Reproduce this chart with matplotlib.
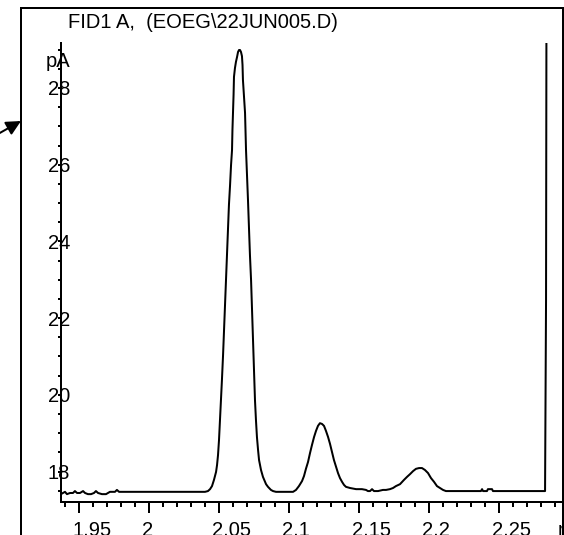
import matplotlib
matplotlib.use('Agg')
import matplotlib.pyplot as plt
import numpy as np
from matplotlib.lines import Line2D
from matplotlib.transforms import ScaledTranslation, blended_transform_factory

plt.rcParams['font.family'] = ['Liberation Sans', 'DejaVu Sans']

title = 'FID1 A,  (EOEG\\22JUN005.D)'
y_unit = 'pA'
x_unit = 'min'

time_min = [
    1.9371, 1.9386, 1.9400, 1.9414, 1.9436, 1.9457, 1.9471, 1.9486, 1.9507, 1.9529,
    1.9543, 1.9564, 1.9586, 1.9607, 1.9621, 1.9636, 1.9664, 1.9693, 1.9721, 1.9757,
    1.9771, 1.9786,
    2.0400, 2.0421, 2.0436, 2.0450, 2.0464, 2.0479, 2.0486, 2.0493, 2.0500, 2.0507,
    2.0514, 2.0521, 2.0529, 2.0536, 2.0543, 2.0550, 2.0557, 2.0564, 2.0571, 2.0579,
    2.0586, 2.0593, 2.0596, 2.0600, 2.0604, 2.0607, 2.0614, 2.0621, 2.0629, 2.0636,
    2.0643, 2.0650, 2.0657, 2.0664, 2.0668, 2.0671, 2.0679, 2.0686, 2.0689, 2.0693,
    2.0700, 2.0707, 2.0714, 2.0721, 2.0729, 2.0736, 2.0743, 2.0750, 2.0757, 2.0764,
    2.0771, 2.0779, 2.0786, 2.0800, 2.0814, 2.0836, 2.0850, 2.0871, 2.0886, 2.0907,
    2.1029,
    2.1050, 2.1071, 2.1093, 2.1107, 2.1121, 2.1136, 2.1150, 2.1164, 2.1179, 2.1193,
    2.1207, 2.1221, 2.1236, 2.1250, 2.1264, 2.1279, 2.1293, 2.1307, 2.1321, 2.1336,
    2.1350, 2.1364, 2.1379, 2.1393, 2.1407, 2.1436, 2.1479, 2.1521, 2.1550, 2.1564,
    2.1579, 2.1593, 2.1607, 2.1636, 2.1671,
    2.1693, 2.1721, 2.1743, 2.1764, 2.1793, 2.1821, 2.1843, 2.1864, 2.1886, 2.1907,
    2.1929, 2.1950, 2.1971, 2.1993, 2.2014, 2.2036, 2.2057, 2.2079, 2.2100, 2.2121,
    2.2371, 2.2379, 2.2386, 2.2414, 2.2421, 2.2450, 2.2457, 2.2829, 2.2836, 2.2839,
]
signal_pA = [
    17.41, 17.44, 17.47, 17.41, 17.44, 17.44, 17.49, 17.44, 17.44, 17.49,
    17.44, 17.41, 17.41, 17.44, 17.49, 17.44, 17.41, 17.41, 17.47, 17.47,
    17.52, 17.47,
    17.47, 17.49, 17.54, 17.62, 17.78, 17.99, 18.17, 18.43, 18.82, 19.34,
    19.86, 20.39, 21.04, 21.69, 22.34, 22.99, 23.65, 24.30, 24.95, 25.47,
    25.99, 26.38, 26.90, 27.35, 27.82, 28.29, 28.52, 28.68, 28.81, 28.94,
    28.99, 28.99, 28.94, 28.83, 28.60, 28.21, 27.77, 27.35, 26.90, 26.38,
    25.73, 25.08, 24.35, 23.65, 22.99, 22.21, 21.43, 20.65, 19.86, 19.34,
    18.90, 18.56, 18.30, 18.04, 17.86, 17.67, 17.60, 17.52, 17.49, 17.47,
    17.47,
    17.52, 17.62, 17.75, 17.88, 18.07, 18.25, 18.48, 18.69, 18.90, 19.06,
    19.19, 19.26, 19.24, 19.19, 19.06, 18.90, 18.72, 18.51, 18.30, 18.12,
    17.96, 17.83, 17.73, 17.65, 17.60, 17.57, 17.54, 17.54, 17.52, 17.49,
    17.49, 17.54, 17.49, 17.49, 17.52,
    17.52, 17.54, 17.57, 17.62, 17.67, 17.78, 17.86, 17.93, 18.01, 18.07,
    18.09, 18.09, 18.04, 17.96, 17.83, 17.73, 17.62, 17.57, 17.52, 17.49,
    17.49, 17.54, 17.49, 17.49, 17.54, 17.54, 17.49, 17.49, 22.47, 30.00,
]

x_major = [1.95, 2.0, 2.05, 2.1, 2.15, 2.2, 2.25]
x_labels = ['1.95', '2', '2.05', '2.1', '2.15', '2.2', '2.25']
y_major = [18, 20, 22, 24, 26, 28]
y_labels = ['18', '20', '22', '24', '26', '28']

W, H = 564, 535
FS = 14.5
LW = 1.44

fig = plt.figure(figsize=(W / 100, H / 100), dpi=100)
ax = fig.add_axes([61 / W, 1 - 502 / H, 503 / W, (502 - 43) / H])
ax.plot(time_min, signal_pA, color='black', lw=LW, solid_joinstyle='round')
ax.set_xlim(1.93714, 2.29643)
ax.set_ylim(17.205, 29.173)

for s in ['top', 'right']:
    ax.spines[s].set_visible(False)
for s in ['left', 'bottom']:
    ax.spines[s].set_linewidth(LW)
    ax.spines[s].set_color('black')

ax.set_xticks(x_major)
ax.set_xticks(np.arange(1.94, 2.296, 0.01), minor=True)
ax.tick_params(axis='x', which='major', direction='out', length=8, width=LW, labelbottom=False)
ax.tick_params(axis='x', which='minor', direction='out', length=3.6, width=LW)

ax.set_yticks(y_major, y_labels)
ax.set_yticks(np.arange(17.5, 29.1, 0.5), minor=True)
ax.tick_params(axis='y', which='major', direction='out', length=2, width=LW, pad=-8.5, labelsize=FS)
ax.tick_params(axis='y', which='minor', direction='out', length=2, width=LW)

trans = blended_transform_factory(ax.transData, ax.transAxes)
for xv, lab in zip(x_major, x_labels):
    ax.text(xv, 0, lab, transform=trans + ScaledTranslation(-7 / 100, -34 / 100, fig.dpi_scale_trans),
            ha='left', va='baseline', fontsize=FS, clip_on=False)

fig.text(68 / W, 1 - 28.5 / H, title, ha='left', va='baseline', fontsize=FS)
fig.text(46 / W, 1 - 67 / H, y_unit, ha='left', va='baseline', fontsize=FS)
fig.text(558 / W, 1 - 536 / H, x_unit, ha='left', va='baseline', fontsize=FS)

frame = Line2D([21 / W, 21 / W, 563 / W, 563 / W], [1 + 10 / H, 1 - 8 / H, 1 - 8 / H, 1 + 10 / H],
               transform=fig.transFigure, color='black', lw=LW, solid_joinstyle='miter', zorder=10)
frame.set_ydata([-10 / H, 1 - 8 / H, 1 - 8 / H, -10 / H])
fig.add_artist(frame)

ax.annotate('', xy=(21 / W, 1 - 121 / H), xytext=(-2 / W, 1 - 134 / H),
            xycoords='figure fraction', textcoords='figure fraction',
            arrowprops=dict(arrowstyle='-|>', color='black', lw=LW, mutation_scale=22,
                            shrinkA=0, shrinkB=0),
            annotation_clip=False)

fig.savefig('out.png', dpi=100)
